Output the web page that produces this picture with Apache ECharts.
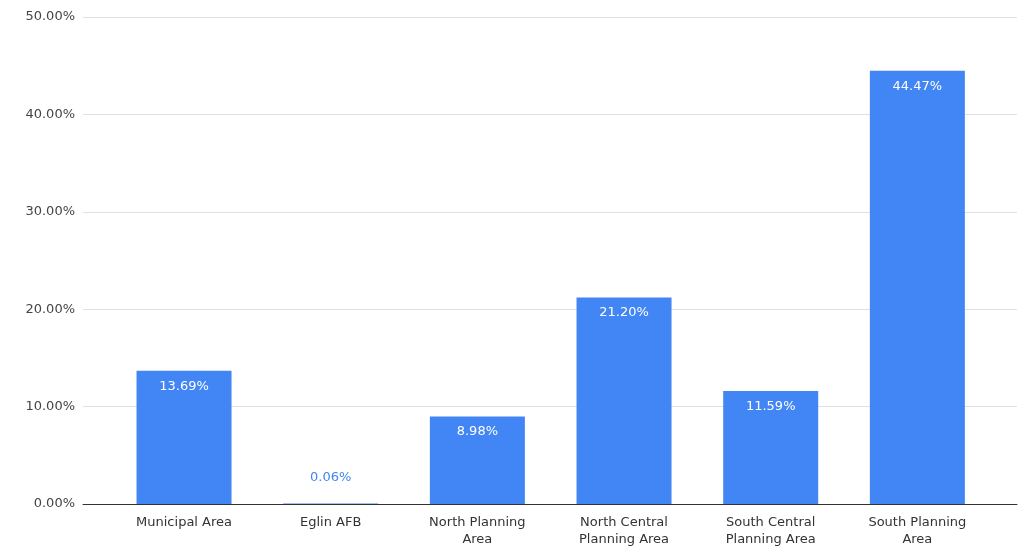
<!DOCTYPE html>
<html>
<head>
<meta charset="utf-8">
<script src="https://cdn.jsdelivr.net/npm/echarts@6/dist/echarts.min.js"></script>
<style>
  html, body { margin: 0; padding: 0; background: #fff; }
  #chart { width: 1025px; height: 550px; }
</style>
</head>
<body>
<div id="chart"></div>
<script>
// Share of total by planning area
const categories = [
  'Municipal Area',
  'Eglin AFB',
  'North Planning\nArea',
  'North Central\nPlanning Area',
  'South Central\nPlanning Area',
  'South Planning\nArea'
];
const shares = [13.69, 0.06, 8.98, 21.20, 11.59, 44.47];
const yTicks = { min: 0, max: 50, interval: 10 };

const BLUE = '#4285F4';
const FONT = '"DejaVu Sans", Arial, sans-serif';
const pct = v => v.toFixed(2) + '%';

const barData = shares.map(v => {
  // Very short bars carry their label above, in the bar colour
  if (v < 2) {
    return { value: v, label: { position: 'top', color: BLUE, distance: 19 } };
  }
  return v;
});

const chart = echarts.init(document.getElementById('chart'), null, { renderer: 'canvas' });
chart.setOption({
  animation: false,
  textStyle: { fontFamily: FONT },
  grid: [
    // background grid: gridlines, y labels, baseline
    { left: 83, right: 8, top: 17, bottom: 46 },
    // bars
    { left: 110.7, right: 34.3, top: 17, bottom: 46 }
  ],
  xAxis: [
    {
      gridIndex: 0, type: 'value', min: 0, max: 1,
      axisLine: { show: true, lineStyle: { color: '#333', width: 1 } },
      axisTick: { show: false }, axisLabel: { show: false }, splitLine: { show: false }
    },
    {
      gridIndex: 1, type: 'category', data: categories,
      axisLine: { show: false }, axisTick: { show: false },
      axisLabel: {
        interval: 0, color: '#333', fontSize: 13, fontFamily: FONT,
        lineHeight: 17, margin: 10
      }
    }
  ],
  yAxis: [
    {
      gridIndex: 0, type: 'value', min: yTicks.min, max: yTicks.max, interval: yTicks.interval,
      axisLine: { show: false }, axisTick: { show: false },
      axisLabel: { color: '#444', fontSize: 13, fontFamily: FONT, margin: 8, formatter: pct },
      splitLine: { lineStyle: { color: '#e0e0e0', width: 1 } }
    },
    {
      gridIndex: 1, type: 'value', min: yTicks.min, max: yTicks.max, interval: yTicks.interval,
      show: false, splitLine: { show: false }
    }
  ],
  series: [{
    type: 'bar',
    xAxisIndex: 1, yAxisIndex: 1,
    data: barData,
    barWidth: 95,
    itemStyle: { color: BLUE },
    label: {
      show: true, position: 'insideTop', distance: 9,
      color: '#fff', fontSize: 13, fontFamily: FONT,
      formatter: p => pct(p.value)
    }
  }]
});
</script>
</body>
</html>
